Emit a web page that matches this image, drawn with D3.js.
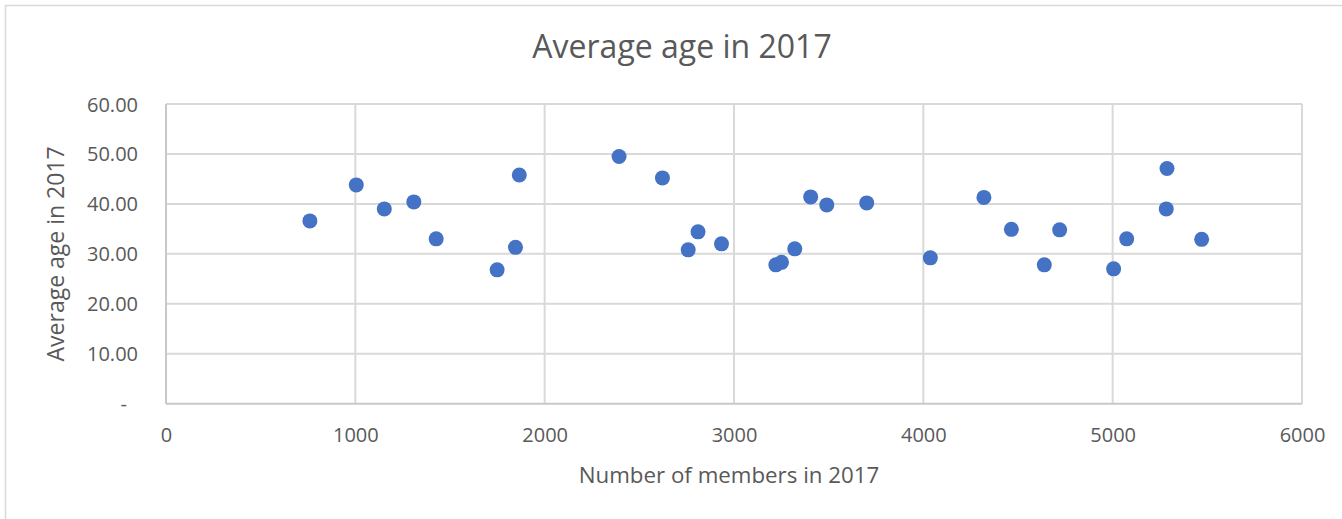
<!DOCTYPE html>
<html>
<head>
<meta charset="utf-8">
<script src="https://cdn.jsdelivr.net/npm/d3@7"></script>
<style>
  html, body { margin: 0; padding: 0; background: #ffffff; }
  svg { display: block; font-family: "Open Sans", sans-serif; }
</style>
</head>
<body>
<svg id="chart" width="1342" height="519"></svg>
<script>
// Members per organisation and their average age, 2017
const members = [760, 1005, 1153, 1309, 1427, 1749, 1846, 1866, 2393, 2622,
                 2758, 2810, 2934, 3221, 3251, 3321, 3405, 3490, 3701, 4037,
                 4320, 4465, 4639, 4720, 5005, 5074, 5283, 5287, 5470];
const avgAge  = [36.6, 43.8, 39.0, 40.4, 33.0, 26.8, 31.3, 45.8, 49.5, 45.2,
                 30.8, 34.4, 32.0, 27.8, 28.3, 31.0, 41.4, 39.8, 40.2, 29.2,
                 41.3, 34.9, 27.8, 34.8, 27.0, 33.0, 39.0, 47.1, 32.9];

const xTicks = [0, 1000, 2000, 3000, 4000, 5000, 6000];
const yTicks = [0, 10, 20, 30, 40, 50, 60];

const title = "Average age in 2017";
const xTitle = "Number of members in 2017";
const yTitle = "Average age in 2017";

const svg = d3.select("#chart");
const textColor = "#595959";
const gridColor = "#d9d9d9";

// chart frame
svg.append("rect")
  .attr("x", 5.5).attr("y", 5.5)
  .attr("width", 1400).attr("height", 600)
  .attr("fill", "#fff")
  .attr("stroke", "#d9d9d9").attr("stroke-width", 1.5);

const plot = { left: 166, right: 1302, top: 104, bottom: 403.7 };

const x = d3.scaleLinear().domain([0, 6000]).range([plot.left, plot.right]);
const y = d3.scaleLinear().domain([0, 60]).range([plot.bottom, plot.top]);

// gridlines
svg.append("g")
  .selectAll("line.vg")
  .data(xTicks.slice(1))
  .join("line")
  .attr("x1", d => x(d)).attr("x2", d => x(d))
  .attr("y1", plot.top).attr("y2", plot.bottom)
  .attr("stroke", gridColor).attr("stroke-width", 2);

svg.append("g")
  .selectAll("line.hg")
  .data(yTicks.slice(1))
  .join("line")
  .attr("x1", plot.left).attr("x2", plot.right)
  .attr("y1", d => y(d)).attr("y2", d => y(d))
  .attr("stroke", gridColor).attr("stroke-width", 2);

// axis lines
svg.append("line")
  .attr("x1", plot.left).attr("x2", plot.left)
  .attr("y1", plot.top).attr("y2", plot.bottom)
  .attr("stroke", "#c8c8c8").attr("stroke-width", 2);
svg.append("line")
  .attr("x1", plot.left).attr("x2", plot.right)
  .attr("y1", plot.bottom).attr("y2", plot.bottom)
  .attr("stroke", "#c8c8c8").attr("stroke-width", 2);

// x axis
const xAxis = d3.axisBottom(x).tickValues(xTicks).tickSize(0).tickPadding(0)
  .tickFormat(d3.format("d"));
const gx = svg.append("g").attr("transform", `translate(0,${plot.bottom})`).call(xAxis);
gx.select(".domain").remove();
gx.selectAll("text")
  .attr("y", 38).attr("dy", null)
  .attr("fill", textColor)
  .style("font-size", "20px")
  .style("font-family", "'Open Sans', sans-serif");

// y axis, accounting-style labels with a dash for zero
const yAxis = d3.axisLeft(y).tickValues(yTicks).tickSize(0).tickPadding(0)
  .tickFormat(d => d === 0 ? "-" : d3.format(".2f")(d));
const gy = svg.append("g").attr("transform", `translate(${plot.left},0)`).call(yAxis);
gy.select(".domain").remove();
gy.selectAll("text")
  .attr("x", d => d === 0 ? -39 : -28)
  .attr("dy", "0.35em")
  .attr("fill", textColor)
  .style("font-size", "20px")
  .style("font-family", "'Open Sans', sans-serif");

// markers
svg.append("g")
  .selectAll("circle")
  .data(members.map((m, i) => ({ m, a: avgAge[i] })))
  .join("circle")
  .attr("cx", d => x(d.m))
  .attr("cy", d => y(d.a))
  .attr("r", 7.5)
  .attr("fill", "#4472C4");

// titles
svg.append("text")
  .attr("x", 682).attr("y", 57.5)
  .attr("text-anchor", "middle")
  .attr("fill", textColor)
  .style("font-size", "32px")
  .text(title);

svg.append("text")
  .attr("x", 729).attr("y", 483)
  .attr("text-anchor", "middle")
  .attr("fill", textColor)
  .style("font-size", "22.3px")
  .text(xTitle);

svg.append("text")
  .attr("transform", `translate(64,${(plot.top + plot.bottom) / 2}) rotate(-90)`)
  .attr("text-anchor", "middle")
  .attr("fill", textColor)
  .style("font-size", "23px")
  .text(yTitle);
</script>
</body>
</html>
